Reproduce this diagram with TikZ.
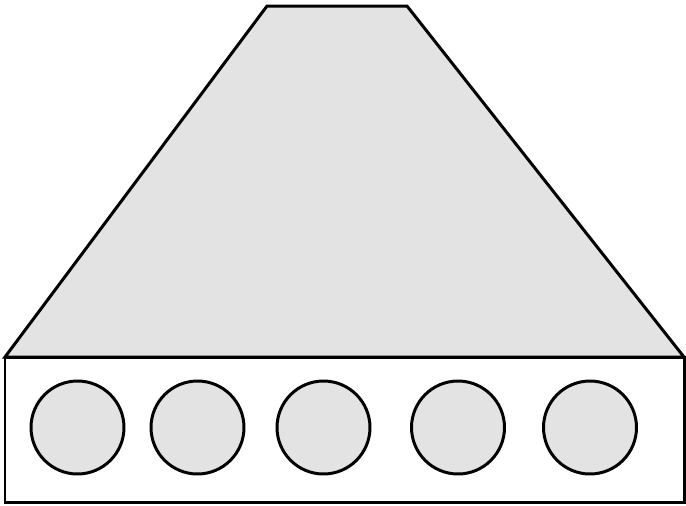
\documentclass[tikz,border=0pt]{standalone}
\usepackage{xcolor}
\usepackage{tikz}
\usetikzlibrary{positioning}
\definecolor{shadegray}{HTML}{E3E3E3}
\tikzset{
  outline/.style={line width=1.7pt,draw=black,line join=miter},
  hood/.style={outline,fill=shadegray},
  base/.style={outline,fill=white},
  hole/.style={circle,outline,fill=shadegray,minimum size=1.86cm,inner sep=0pt}
}

\begin{document}
\begin{tikzpicture}[x=0.02cm,y=-0.02cm]
  \useasboundingbox (0,0) rectangle (686,505);
  \coordinate (tl) at (267,6);
  \coordinate (tr) at (407,6);
  \coordinate (bl) at (5,357);
  \coordinate (br) at (684,357);
  \coordinate (fl) at (5,502);
  \coordinate (fr) at (684,502);
  \draw[hood] (bl) -- (tl) -- (tr) -- (br) -- cycle;
  \draw[base] (bl) rectangle (fr);
  \node[hole] (h1) at (77.5,427.5) {};
  \node[hole] (h2) at (197.5,427.5) {};
  \node[hole] (h3) at (323.5,427.5) {};
  \node[hole] (h4) at (458,427.5) {};
  \node[hole] (h5) at (590,427.5) {};
\end{tikzpicture}
\end{document}
